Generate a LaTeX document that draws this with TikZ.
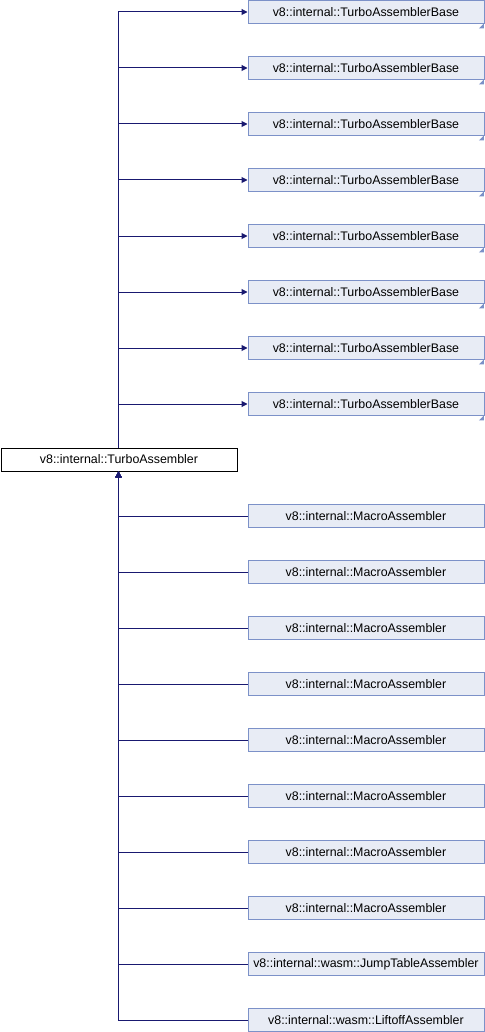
\documentclass[tikz,border=0pt]{standalone}
\usepackage{fontspec}
\setmainfont{Liberation Sans}
\usetikzlibrary{arrows.meta}
\definecolor{edgeblue}{HTML}{191970}
\definecolor{boxfill}{HTML}{E8ECF5}
\definecolor{boxline}{HTML}{7C91C8}
\tikzset{
  base/.style={draw=boxline, fill=boxfill, line width=0.9pt, minimum width=236pt, minimum height=23pt, inner sep=0pt, font=\fontsize{12.4}{14}\selectfont, anchor=west},
  mainbox/.style={draw=black, fill=white, line width=0.9pt, minimum width=236pt, minimum height=23pt, inner sep=0pt, font=\fontsize{12.4}{14}\selectfont, anchor=west},
  edge/.style={draw=edgeblue, line width=1pt},
  tip/.style={-{Triangle[length=6pt,width=6pt]}},
  corner/.style={fill=boxline, draw=none}
}
\begin{document}
\begin{tikzpicture}[x=1pt,y=-1pt]
\useasboundingbox (0,0) rectangle (484,1032);
\node[mainbox] (ta) at (0.5,459.5) {v8::internal::TurboAssembler};
\coordinate (trunk) at (118.5,0);
\foreach \i in {0,...,7}{
  \node[base] (b\i) at (247.5,{12+56*\i}) {v8::internal::TurboAssemblerBase};
  \fill[corner] ([xshift=-0.5pt,yshift=0.5pt]b\i.south east) -- ++(0,5) -- ++(-5,0) -- cycle;
  \draw[edge,tip] (ta.north -| trunk) |- (b\i.west);
}
\foreach \i in {0,...,7}{
  \node[base] (m\i) at (247.5,{516+56*\i}) {v8::internal::MacroAssembler};
  \draw[edge,tip] (m\i.west) -| (ta.south -| trunk);
}
\node[base] (jt) at (247.5,964) {v8::internal::wasm::JumpTableAssembler};
\draw[edge,tip] (jt.west) -| (ta.south -| trunk);
\node[base] (lo) at (247.5,1020) {v8::internal::wasm::LiftoffAssembler};
\draw[edge,tip] (lo.west) -| (ta.south -| trunk);
\end{tikzpicture}
\end{document}
